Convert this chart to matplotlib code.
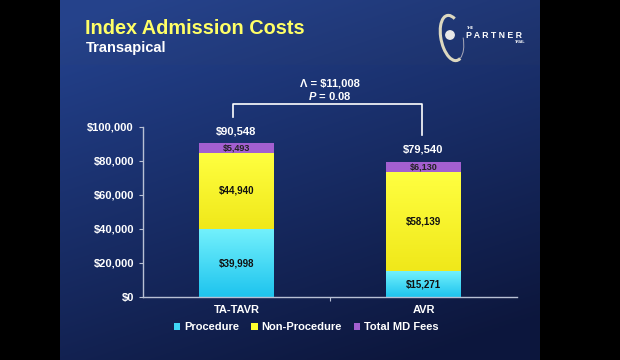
import matplotlib.pyplot as plt
import matplotlib.patches as patches
from matplotlib.colors import LinearSegmentedColormap
import numpy as np

plt.rcParams['font.family'] = ['Liberation Sans', 'DejaVu Sans']
plt.rcParams['font.weight'] = 'bold'
plt.rcParams['mathtext.fontset'] = 'custom'
plt.rcParams['mathtext.it'] = 'Liberation Sans:bold:italic'
plt.rcParams['mathtext.rm'] = 'Liberation Sans:bold'

groups = ['TA-TAVR', 'AVR']
procedure = [39998, 15271]
non_procedure = [44940, 58139]
md_fees = [5493, 6130]
totals = [90548, 79540]
series_names = ['Procedure', 'Non-Procedure', 'Total MD Fees']
delta_text = 'Λ = \\$11,008'
p_text = '$P$ = 0.08'

W, H = 620, 360
fig = plt.figure(figsize=(W / 100, H / 100), dpi=100)
fig.patch.set_facecolor('black')

# slide background (gradient), black bars left and right
bg = fig.add_axes([60 / W, 0, 480 / W, 1])
bg.set_axis_off()
yy, xx = np.mgrid[0:1:200j, 0:1:200j]
t = np.clip(0.8 * yy + 0.35 * xx - 0.05, 0, 1)
top = np.array([0.14, 0.26, 0.56])
bot = np.array([0.05, 0.09, 0.24])
img = top[None, None, :] * (1 - t[..., None]) + bot[None, None, :] * t[..., None]
band = yy < 0.18
img[band] = img[band] * 0.95 + 0.015
bg.imshow(img, extent=[0, 1, 0, 1], aspect='auto', origin='upper')
bg.set_xlim(0, 1)
bg.set_ylim(0, 1)

fig.text(85 / W, 1 - 28 / H, 'Index Admission Costs', color='#ffff66', fontsize=14.3,
         fontweight='bold', va='center', ha='left')
fig.text(86 / W, 1 - 48 / H, 'Transapical', color='white', fontsize=10.5,
         fontweight='bold', va='center', ha='left')

# logo
logo = fig.add_axes([430 / W, 1 - 80 / H, 110 / W, 70 / H])
logo.set_axis_off()
logo.set_xlim(430, 540)
logo.set_ylim(80, 10)
logo.add_patch(patches.Arc((452, 38), 22, 46, angle=-12, theta1=80, theta2=290,
                           color='#dcd8c0', lw=2.2))
logo.add_patch(patches.Arc((452, 38), 22, 46, angle=-12, theta1=10, theta2=80,
                           color='#a8a8b8', lw=0.7))
logo.add_patch(patches.Circle((450, 35), 4.2, color='#e8e8e8'))
logo.text(467, 28, 'THE', color='white', fontsize=2.5, va='center')
logo.text(466, 35, 'P A R T N E R', color='white', fontsize=6.3, va='center')
logo.text(525, 42, 'TRIAL', color='white', fontsize=2.5, va='center', ha='right')

ax = fig.add_axes([143 / W, 63 / H, 374 / W, 170 / H])
ax.patch.set_alpha(0)
x = np.arange(len(groups))
w = 0.4
colors = ['#3fd6f6', '#ffff2e', '#a35fd0']
b1 = ax.bar(x, procedure, w, color=colors[0], label=series_names[0])
b2 = ax.bar(x, non_procedure, w, bottom=procedure, color=colors[1], label=series_names[1])
bottom2 = np.array(procedure) + np.array(non_procedure)
b3 = ax.bar(x, md_fees, w, bottom=bottom2, color=colors[2], label=series_names[2])

# vertical shading on the cyan and yellow segments
grads = [LinearSegmentedColormap.from_list('c', ['#1ec4ee', '#72f0fc']),
         LinearSegmentedColormap.from_list('y', ['#f0e81a', '#ffff40'])]
for bars, cm in zip([b1, b2], grads):
    for p in bars:
        x0, y0 = p.get_x(), p.get_y()
        im = ax.imshow(np.linspace(0, 1, 64)[:, None], cmap=cm, origin='lower', aspect='auto',
                       extent=[x0, x0 + p.get_width(), y0, y0 + p.get_height()], zorder=1.5)
        im.set_clip_path(p)

for i in range(len(groups)):
    ax.text(x[i], procedure[i] / 2, f'${procedure[i]:,}', ha='center', va='center',
            fontsize=7, color='#111111', zorder=3)
    ax.text(x[i], procedure[i] + non_procedure[i] / 2, f'${non_procedure[i]:,}', ha='center',
            va='center', fontsize=7, color='#111111', zorder=3)
    ax.text(x[i], bottom2[i] + md_fees[i] / 2, f'${md_fees[i]:,}', ha='center', va='center',
            fontsize=6.5, color='#222222', zorder=3)
    ax.text(x[i], totals[i] + 7000, f'${totals[i]:,}', ha='center', va='center',
            fontsize=8, color='white')

# bracket
ax.plot([x[0] - 0.02, x[0] - 0.02, x[1] - 0.01, x[1] - 0.01],
        [105900, 113500, 113500, 95300], color='white', lw=1.2, clip_on=False)
ax.text(0.5, 125300, delta_text, ha='center', va='center', fontsize=8, color='white')
ax.text(0.5, 118200, p_text, ha='center', va='center', fontsize=8, color='white')

ax.set_xlim(-0.5, 1.5)
ax.set_ylim(0, 100000)
ax.set_yticks(np.arange(0, 100001, 20000))
ax.set_yticklabels([f'${v:,}' for v in range(0, 100001, 20000)])
ax.set_xticks([0.5])
ax.set_xticklabels([''])
for i, g in enumerate(groups):
    ax.text(x[i], -7500, g, ha='center', va='center', fontsize=8, color='white')
for s in ['top', 'right']:
    ax.spines[s].set_visible(False)
for s in ['left', 'bottom']:
    ax.spines[s].set_color('#b8c0d4')
    ax.spines[s].set_linewidth(1.0)
ax.tick_params(colors='#b8c0d4', labelcolor='white', labelsize=8, length=3, direction='out')

leg = fig.legend(handles=[b1, b2, b3], labels=series_names, loc='center',
                 bbox_to_anchor=(306 / W, 1 - 327 / H), ncol=3, frameon=False,
                 fontsize=8, handlelength=0.6, handleheight=0.6, handletextpad=0.3,
                 columnspacing=1.1, labelcolor='white')

fig.savefig('out.png', dpi=100, facecolor=fig.get_facecolor())
